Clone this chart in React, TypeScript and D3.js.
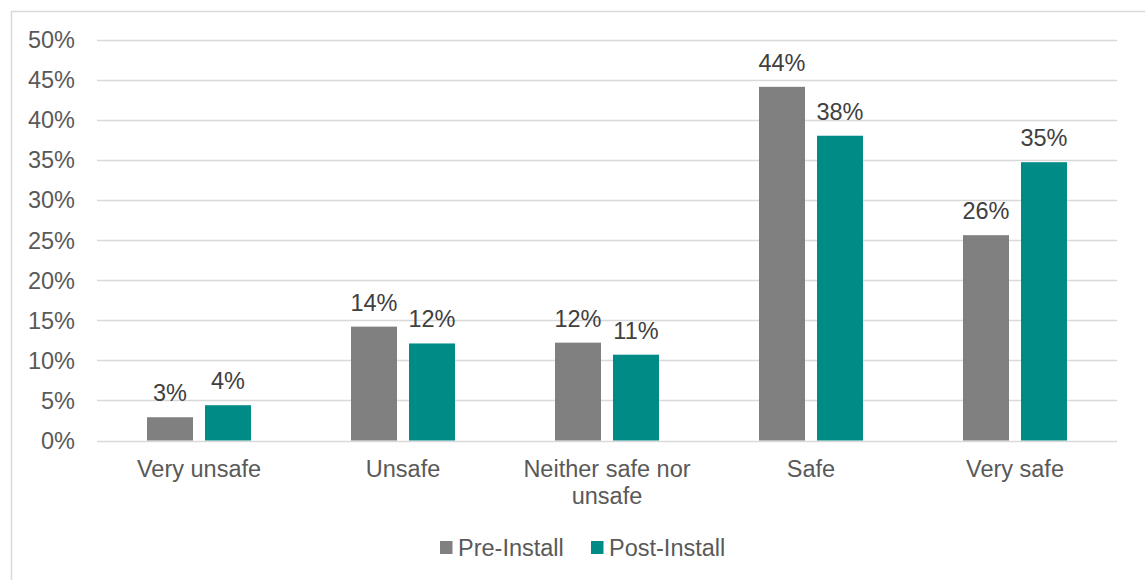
import React from "react";
import * as d3 from "d3";

const categories = ["Very unsafe", "Unsafe", "Neither safe nor unsafe", "Safe", "Very safe"];
const categoryLines = [["Very unsafe"], ["Unsafe"], ["Neither safe nor", "unsafe"], ["Safe"], ["Very safe"]];
const preInstall = [2.9, 14.2, 12.2, 44.1, 25.6];
const postInstall = [4.4, 12.1, 10.7, 38.0, 34.7];
const preLabels = ["3%", "14%", "12%", "44%", "26%"];
const postLabels = ["4%", "12%", "11%", "38%", "35%"];
const yTicks = [0, 5, 10, 15, 20, 25, 30, 35, 40, 45, 50];
const seriesNames = ["Pre-Install", "Post-Install"];
const colors = ["#808080", "#008B87"];

export default function App() {
  const W = 1145, H = 580;
  const left = 97, right = 1117, top = 39.5, bottom = 440.5;
  const x = d3.scaleBand<string>().domain(categories).range([left, right]);
  const y = d3.scaleLinear().domain([0, 50]).range([bottom, top]);
  const barW = 46, gap = 12;
  const series = [preInstall, postInstall];
  const labels = [preLabels, postLabels];
  const font = "Liberation Sans, Arial, sans-serif";
  const fs = 23.5;
  return (
    <svg width={W} height={H} style={{ position: "absolute", left: 0, top: 0 }} fontFamily={font}>
      <rect x={0} y={0} width={W} height={H} fill="#fff" />
      <line x1={11.5} y1={11} x2={11.5} y2={H} stroke="#d9d9d9" strokeWidth={1.5} />
      <line x1={11} y1={11.5} x2={W} y2={11.5} stroke="#d9d9d9" strokeWidth={1.5} />
      {yTicks.map((t) => (
        <g key={t}>
          <line x1={left} x2={right} y1={Math.round(y(t)) + 0.5} y2={Math.round(y(t)) + 0.5} stroke="#d9d9d9" strokeWidth={1.5} />
          <text x={75} y={y(t) + 8.5} textAnchor="end" fontSize={fs} fill="#595959">{t}%</text>
        </g>
      ))}
      {categories.map((c, i) => {
        const cx = (x(c) as number) + x.bandwidth() / 2;
        return (
          <g key={c}>
            {series.map((s, j) => {
              const bx = j === 0 ? cx - gap / 2 - barW : cx + gap / 2;
              return (
                <g key={j}>
                  <rect x={bx} y={y(s[i])} width={barW} height={bottom - y(s[i])} fill={colors[j]} />
                  <text x={bx + barW / 2} y={y(s[i]) - 16} textAnchor="middle" fontSize={fs} fill="#404040">{labels[j][i]}</text>
                </g>
              );
            })}
            {categoryLines[i].map((ln, k) => (
              <text key={k} x={cx} y={477 + k * 27} textAnchor="middle" fontSize={fs} fill="#595959">{ln}</text>
            ))}
          </g>
        );
      })}
      {seriesNames.map((n, j) => {
        const lx = j === 0 ? 440 : 591;
        return (
          <g key={n}>
            <rect x={lx} y={541} width={12.5} height={13} fill={colors[j]} />
            <text x={lx + 18} y={556} fontSize={fs} fill="#595959">{n}</text>
          </g>
        );
      })}
    </svg>
  );
}
